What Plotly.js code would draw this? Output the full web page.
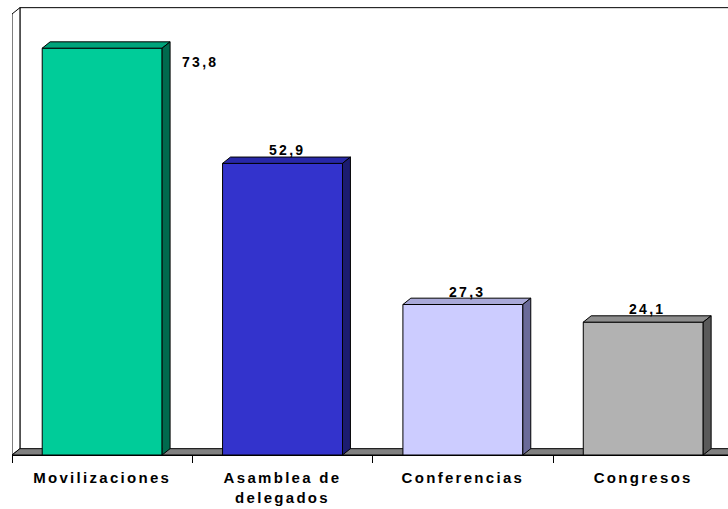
<!DOCTYPE html>
<html>
<head>
<meta charset="utf-8">
<script src="https://cdn.plot.ly/plotly-3.0.1.min.js"></script>
<style>
  html, body { margin: 0; padding: 0; background: #fff; }
  #chart { width: 728px; height: 509px; }
  .xtick text, .annotation-text { letter-spacing: 2.3px; }
</style>
</head>
<body>
<div id="chart"></div>
<script>
// ---- data ----
const categories = ['Movilizaciones', 'Asamblea de<br>delegados', 'Conferencias', 'Congresos'];
const values = [73.8, 52.9, 27.3, 24.1];
const valueLabels = ['73,8', '52,9', '27,3', '24,1'];
const frontColors = ['#00CC99', '#3333CC', '#CCCCFF', '#B2B2B2'];
const topColors = ['#00A47B', '#2828A8', '#A9A9D9', '#8E8E8E'];
const sideColors = ['#006A4E', '#1C1C70', '#6A6A99', '#5A5A5A'];

// ---- geometry (styles) ----
const yMax = 80;          // front-plane axis maximum
const barW = 0.665;
const dx = 0.044;         // 3D depth offset in x (category units)
const dy = 1.15;          // 3D depth offset in y (value units)
const xMin = -0.5, xMax = 3.47;
const idx = values.map((v, i) => i);

const traces = [];
// front faces
traces.push({
  type: 'bar', x: idx, y: values, width: barW,
  marker: { color: frontColors, line: { color: '#000', width: 1 } },
  hoverinfo: 'skip', showlegend: false
});
// tops & sides
idx.forEach(i => {
  const x0 = i - barW / 2, x1 = i + barW / 2, v = values[i];
  traces.push({
    type: 'scatter', mode: 'lines', fill: 'toself',
    x: [x0, x1, x1 + dx, x0 + dx, x0],
    y: [v, v, v + dy, v + dy, v],
    fillcolor: topColors[i], line: { color: '#000', width: 1 },
    hoverinfo: 'skip', showlegend: false
  });
  traces.push({
    type: 'scatter', mode: 'lines', fill: 'toself',
    x: [x1, x1 + dx, x1 + dx, x1, x1],
    y: [0, dy, v + dy, v, 0],
    fillcolor: sideColors[i], line: { color: '#000', width: 1 },
    hoverinfo: 'skip', showlegend: false
  });
});

const shapes = [
  // back wall
  { type: 'path', layer: 'below', xref: 'x', yref: 'y',
    path: `M ${xMin + dx} ${dy} L ${xMin + dx} ${yMax + dy} L ${xMax + 0.1} ${yMax + dy}`,
    line: { color: '#000', width: 1 } },
  // left wall
  { type: 'path', layer: 'below', xref: 'x', yref: 'y',
    path: `M ${xMin} 0 L ${xMin} ${yMax} L ${xMin + dx} ${yMax + dy} L ${xMin + dx} ${dy} Z`,
    fillcolor: '#FFFFFF', line: { color: '#000', width: 1 } },
  // floor
  { type: 'path', layer: 'below', xref: 'x', yref: 'y',
    path: `M ${xMin} 0 L ${xMax + 0.1} 0 L ${xMax + 0.1} ${dy} L ${xMin + dx} ${dy} Z`,
    fillcolor: '#808080', line: { color: '#000', width: 1 } }
];

const labelX = idx.map(i => i === 0 ? i + 0.54 : i + dx / 2);
const labelShift = idx.map(i => i === 0 ? -14 : 13);
const annotations = idx.map(i => ({
  xref: 'x', yref: 'y', x: labelX[i], y: values[i],
  text: valueLabels[i], showarrow: false, xanchor: 'center', yanchor: 'middle',
  yshift: labelShift[i],
  font: { family: 'Liberation Sans, Arial, sans-serif', size: 14, color: '#000', weight: 'bold' }
}));

const layout = {
  width: 728, height: 509,
  margin: { l: 12, r: 0, t: 6, b: 54 },
  paper_bgcolor: '#FFFFFF', plot_bgcolor: '#FFFFFF',
  showlegend: false,
  xaxis: {
    range: [xMin, xMax], tickmode: 'array', tickvals: idx, ticktext: categories,
    ticks: '', showgrid: false, zeroline: false, ticklabelstandoff: 9,
    showline: true, linecolor: '#000', linewidth: 1,
    tickfont: { family: 'Liberation Sans, Arial, sans-serif', size: 15, color: '#000', weight: 'bold' },
    minor: { tickmode: 'array', tickvals: [-0.5, 0.5, 1.5, 2.5], ticks: 'outside', ticklen: 7, tickcolor: '#000', tickwidth: 1, showgrid: false },
    fixedrange: true
  },
  yaxis: {
    range: [0, 449 / (441 / yMax)], showticklabels: false, ticks: '', showgrid: false,
    zeroline: false, showline: false, fixedrange: true
  },
  shapes: shapes,
  annotations: annotations,
  bargap: 0
};

Plotly.newPlot('chart', traces, layout, { displayModeBar: false, staticPlot: true });
</script>
</body>
</html>
